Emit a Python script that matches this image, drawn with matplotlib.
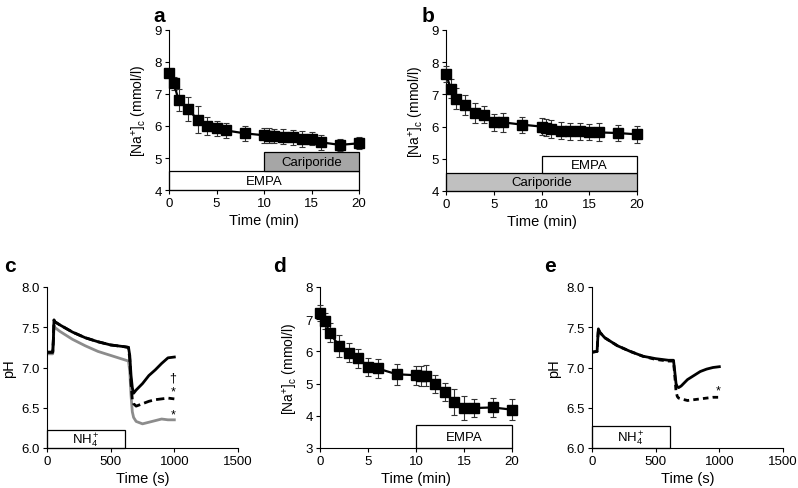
import matplotlib
matplotlib.use("Agg")
import matplotlib.pyplot as plt
from matplotlib.patches import Rectangle

plt.rcParams["font.family"] = ["Liberation Sans", "DejaVu Sans"]
plt.rcParams["mathtext.fontset"] = "custom"
plt.rcParams["mathtext.rm"] = "Liberation Sans"
plt.rcParams["mathtext.it"] = "Liberation Sans:italic"

# ---- panel a / b / d: [Na+]c time courses ----
t_min = [0, 0.5, 1, 2, 3, 4, 5, 6, 8, 10, 10.5, 11, 12, 13, 14, 15, 16, 18, 20]

na_a = [7.67, 7.34, 6.82, 6.53, 6.20, 6.01, 5.93, 5.86, 5.77, 5.71, 5.70, 5.69, 5.67, 5.65, 5.59, 5.60, 5.49, 5.41, 5.46]
err_a = [0.08, 0.20, 0.35, 0.38, 0.43, 0.28, 0.24, 0.24, 0.23, 0.24, 0.23, 0.22, 0.23, 0.23, 0.24, 0.20, 0.23, 0.19, 0.19]

na_b = [7.62, 7.18, 6.87, 6.67, 6.42, 6.37, 6.13, 6.13, 6.06, 6.00, 5.97, 5.94, 5.87, 5.85, 5.85, 5.82, 5.82, 5.80, 5.76]
err_b = [0.25, 0.30, 0.33, 0.30, 0.32, 0.26, 0.26, 0.30, 0.25, 0.27, 0.27, 0.28, 0.27, 0.27, 0.27, 0.25, 0.28, 0.24, 0.26]

na_d = [7.20, 6.95, 6.58, 6.17, 5.96, 5.78, 5.53, 5.47, 5.29, 5.26, 5.24, 5.24, 5.00, 4.75, 4.42, 4.24, 4.24, 4.26, 4.19]
err_d = [0.25, 0.25, 0.30, 0.35, 0.30, 0.28, 0.28, 0.30, 0.33, 0.30, 0.30, 0.33, 0.28, 0.28, 0.40, 0.38, 0.28, 0.30, 0.32]

# ---- panel c: pH traces ----
t_c = [0, 45, 50, 55, 60, 100, 200, 300, 400, 500, 600, 640, 650, 660, 670, 680, 700, 750, 800, 850, 900, 950, 1000]
ph_c_ctrl = [7.19, 7.19, 7.35, 7.59, 7.57, 7.53, 7.44, 7.37, 7.32, 7.28, 7.26, 7.25, 7.15, 6.90, 6.75, 6.68, 6.72, 6.80, 6.90, 6.97, 7.05, 7.12, 7.13]
ph_c_dash = [7.19, 7.19, 7.35, 7.59, 7.57, 7.53, 7.44, 7.37, 7.32, 7.28, 7.26, 7.25, 7.10, 6.80, 6.60, 6.55, 6.52, 6.55, 6.58, 6.60, 6.61, 6.62, 6.61]
ph_c_grey = [7.17, 7.17, 7.30, 7.52, 7.50, 7.45, 7.35, 7.27, 7.20, 7.15, 7.10, 7.08, 6.95, 6.65, 6.45, 6.38, 6.33, 6.30, 6.32, 6.34, 6.36, 6.35, 6.35]

# ---- panel e: pH traces ----
t_e = [0, 40, 45, 50, 60, 100, 200, 300, 400, 500, 600, 640, 650, 660, 670, 680, 700, 750, 800, 850, 900, 950, 1000]
ph_e_ctrl = [7.19, 7.20, 7.35, 7.48, 7.44, 7.37, 7.27, 7.20, 7.14, 7.11, 7.09, 7.09, 6.95, 6.80, 6.76, 6.75, 6.77, 6.85, 6.90, 6.95, 6.98, 7.00, 7.01]
ph_e_dash = [7.19, 7.20, 7.35, 7.48, 7.44, 7.37, 7.27, 7.20, 7.14, 7.10, 7.08, 7.08, 6.90, 6.70, 6.64, 6.62, 6.61, 6.59, 6.60, 6.61, 6.62, 6.63, 6.63]

W, H = 798, 489
fig = plt.figure(figsize=(W / 100, H / 100), dpi=100)


def make_ax(x0, y0, x1, y1):
    ax = fig.add_axes([x0 / W, 1 - y1 / H, (x1 - x0) / W, (y1 - y0) / H])
    for s in ["top", "right"]:
        ax.spines[s].set_visible(False)
    for s in ["left", "bottom"]:
        ax.spines[s].set_linewidth(0.8)
    ax.tick_params(direction="out", length=3, width=0.8, labelsize=9.5, pad=2)
    return ax


def na_panel(ax, y, err, ylim):
    ax.errorbar(t_min, y, yerr=err, color="black", lw=1.6, marker="s", ms=6.5,
                ecolor="#333333", elinewidth=0.8, capsize=2.5, capthick=0.8, clip_on=False, zorder=3)
    ax.set_xlim(0, 20)
    ax.set_ylim(*ylim)
    ax.set_xticks([0, 5, 10, 15, 20])
    ax.set_xlabel("Time (min)", fontsize=10.5, labelpad=3)


def box(ax, x0, x1, y0, y1, text, fc):
    ax.add_patch(Rectangle((x0, y0), x1 - x0, y1 - y0, facecolor=fc, edgecolor="black", lw=0.9, zorder=2, clip_on=False))
    ax.text((x0 + x1) / 2, (y0 + y1) / 2 - 0.01, text, ha="center", va="center", fontsize=9.5, zorder=4)


na_label = r"[Na$^{+}$]$_{\rm c}$ (mmol/l)"

# a
ax_a = make_ax(169, 31, 359, 191)
na_panel(ax_a, na_a, err_a, (4, 9))
ax_a.set_yticks([4, 5, 6, 7, 8, 9])
ax_a.set_ylabel(na_label, fontsize=10)
box(ax_a, 0, 20, 4.0, 4.6, "EMPA", "white")
box(ax_a, 10, 20, 4.6, 5.2, "Cariporide", "#a6a6a6")
fig.text(159 / W, 1 - 16 / H, "a", fontsize=15, fontweight="bold", ha="center", va="center")

# b
ax_b = make_ax(446, 31, 637, 192)
na_panel(ax_b, na_b, err_b, (4, 9))
ax_b.set_yticks([4, 5, 6, 7, 8, 9])
ax_b.set_ylabel(na_label, fontsize=10)
box(ax_b, 0, 20, 4.0, 4.55, "Cariporide", "#c0c0c0")
box(ax_b, 10, 20, 4.55, 5.1, "EMPA", "white")
fig.text(428 / W, 1 - 16 / H, "b", fontsize=15, fontweight="bold", ha="center", va="center")

# d
ax_d = make_ax(320, 288, 512, 449)
na_panel(ax_d, na_d, err_d, (3, 8))
ax_d.set_yticks([3, 4, 5, 6, 7, 8])
ax_d.set_ylabel(na_label, fontsize=10)
box(ax_d, 10, 20, 3.0, 3.7, "EMPA", "white")
fig.text(280 / W, 1 - 267 / H, "d", fontsize=15, fontweight="bold", ha="center", va="center")

# c
ax_c = make_ax(47, 288, 238, 449)
ax_c.plot(t_c, ph_c_grey, color="#8c8c8c", lw=2)
ax_c.plot(t_c, ph_c_dash, color="black", lw=2, ls=(0, (3, 1.5)))
ax_c.plot(t_c, ph_c_ctrl, color="black", lw=2)
ax_c.set_xlim(0, 1500)
ax_c.set_ylim(6.0, 8.0)
ax_c.set_xticks([0, 500, 1000, 1500])
ax_c.set_yticks([6.0, 6.5, 7.0, 7.5, 8.0])
ax_c.set_yticklabels(["6.0", "6.5", "7.0", "7.5", "8.0"])
ax_c.set_xlabel("Time (s)", fontsize=10.5, labelpad=3)
ax_c.set_ylabel("pH", fontsize=10.5)
box(ax_c, 0, 610, 6.0, 6.22, r"NH$_4^+$", "white")
ax_c.text(990, 6.88, "\u2020", fontsize=9, ha="center", va="center")
ax_c.text(990, 6.70, "*", fontsize=9, ha="center", va="center")
ax_c.text(990, 6.42, "*", fontsize=9, ha="center", va="center")
fig.text(10 / W, 1 - 267 / H, "c", fontsize=15, fontweight="bold", ha="center", va="center")

# e
ax_e = make_ax(592, 288, 783, 449)
ax_e.plot(t_e, ph_e_dash, color="black", lw=2, ls=(0, (2, 1.5)))
ax_e.plot(t_e, ph_e_ctrl, color="black", lw=2)
ax_e.set_xlim(0, 1500)
ax_e.set_ylim(6.0, 8.0)
ax_e.set_xticks([0, 500, 1000, 1500])
ax_e.set_yticks([6.0, 6.5, 7.0, 7.5, 8.0])
ax_e.set_yticklabels(["6.0", "6.5", "7.0", "7.5", "8.0"])
ax_e.set_xlabel("Time (s)", fontsize=10.5, labelpad=3)
ax_e.set_ylabel("pH", fontsize=10.5)
box(ax_e, 0, 610, 6.0, 6.27, r"NH$_4^+$", "white")
ax_e.text(990, 6.72, "*", fontsize=9, ha="center", va="center")
fig.text(550 / W, 1 - 267 / H, "e", fontsize=15, fontweight="bold", ha="center", va="center")

fig.savefig("out.png", dpi=100)
